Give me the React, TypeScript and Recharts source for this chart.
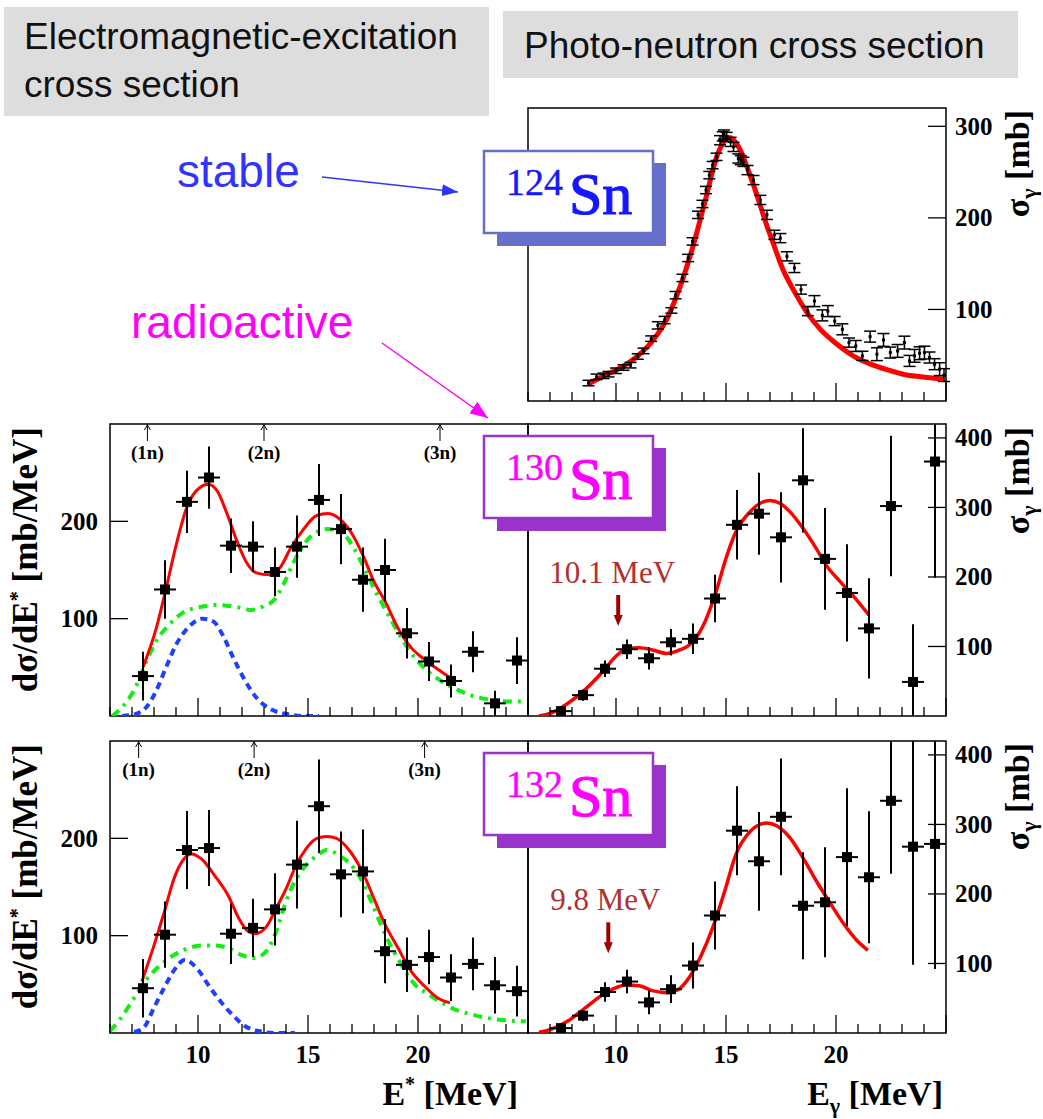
import React from 'react';
import { ComposedChart, XAxis, YAxis, Line, Scatter, ErrorBar, ReferenceArea, ReferenceDot } from 'recharts';

const SERIF = '"Liberation Serif", "Times New Roman", serif';
const SANS = '"Liberation Sans", Arial, sans-serif';

// axes
const energyTicks = [6, 7, 8, 9, 10, 11, 12, 13, 14, 15, 16, 17, 18, 19, 20, 21, 22, 23, 24, 25];
const energyLabels = [10, 15, 20];
const emTicks = [100, 200];
const gammaTicks = [100, 200, 300, 400];
const sn124Ticks = [100, 200, 300];

// 124Sn photo-neutron: [E, sigma, err]
const sn124Points = [
  [8.75, 19.6, 3], [9.12, 26.4, 3], [9.44, 27.5, 3], [9.66, 29.3, 3], [10.0, 33, 3], [10.34, 36.6, 3],
  [10.66, 39.1, 3], [10.99, 48.6, 3], [11.25, 54.7, 3], [11.6, 68.1, 3], [11.9, 82.6, 4], [12.21, 88.4, 4],
  [12.52, 98.9, 3], [12.71, 115.6, 4], [13.02, 134.4, 4], [13.28, 156.2, 4], [13.48, 174.3, 4], [13.73, 203.3, 4],
  [13.93, 215.2, 4], [14.09, 230.4, 4], [14.24, 246.7, 4], [14.39, 257.6, 4], [14.57, 266.7, 4], [14.73, 284.8, 5],
  [14.85, 289.1, 5], [14.91, 291, 5], [15.03, 288.4, 5], [15.21, 283, 5], [15.34, 277.5, 5], [15.56, 264.9, 5],
  [15.67, 263, 5], [15.79, 261.2, 5], [15.98, 252.2, 5], [16.25, 241.3, 5], [16.56, 219.6, 5], [16.86, 203.3, 5],
  [17.2, 181.5, 5], [17.47, 177.9, 5], [17.77, 158, 5], [18.11, 145.3, 5], [18.41, 121.7, 5], [18.72, 98.2, 5],
  [19.02, 109.1, 6], [19.38, 93.5, 6], [19.63, 98.2, 6], [19.94, 87.3, 5], [20.29, 78.3, 6], [20.59, 63.8, 5],
  [20.9, 60.1, 6], [21.2, 49.3, 5], [21.55, 70.3, 6], [21.86, 51.1, 7], [22.16, 66.7, 7], [22.47, 52.9, 6],
  [22.8, 54.7, 7], [23.11, 63.8, 7], [23.34, 43.8, 6], [23.57, 49.3, 7], [23.8, 52.2, 7], [24.02, 52.9, 7],
  [24.25, 47.5, 6], [24.48, 40.2, 6], [24.71, 34.8, 7], [24.91, 28.3, 7],
];
const sn124Fit = [
  [8.75, 18.5], [9.4, 27], [10.15, 35.5], [10.9, 47.5], [11.7, 67], [12.3, 89], [12.9, 124], [13.5, 169],
  [14.1, 223], [14.55, 265], [14.9, 283], [15.1, 288], [15.35, 285], [15.65, 274], [15.95, 256], [16.25, 236],
  [16.55, 214], [16.85, 192], [17.15, 172], [17.6, 143], [18.1, 120], [18.7, 96], [19.3, 78], [20.05, 62],
  [20.8, 49], [21.6, 40], [22.35, 34], [23.1, 29], [23.85, 26.5], [24.9, 24],
];

// 130Sn electromagnetic excitation
const sn130EmPoints = [
  [7.5, 41, 25], [8.5, 130, 30], [9.5, 220, 32], [10.5, 245, 32], [11.5, 175, 28], [12.5, 174, 26],
  [13.5, 148, 25], [14.5, 174, 32], [15.5, 222, 37], [16.5, 192, 36], [17.5, 140, 33], [18.5, 150, 32],
  [19.5, 85, 26], [20.5, 56, 20], [21.5, 36, 17], [22.5, 66, 21], [23.5, 13, 13], [24.5, 57, 24],
];
const sn130EmFit = [
  [7.5, 50], [8.1, 90], [8.55, 131], [9.0, 175], [9.5, 215], [10.1, 235], [10.45, 238], [10.85, 232],
  [11.3, 209], [11.75, 181], [12.2, 158], [12.65, 147], [13.25, 145], [13.75, 153], [14.2, 172], [14.8, 192],
  [15.4, 206], [15.9, 208], [16.35, 204], [16.95, 189], [17.5, 165], [18.0, 138], [18.5, 118], [19.1, 90],
  [19.7, 70], [20.3, 58], [20.9, 48], [21.45, 39.5],
];
const sn130EmGdr = [
  [6.1, 0], [6.55, 9], [7.15, 29], [7.65, 56], [8.1, 77], [8.7, 94], [9.3, 106], [10.1, 112], [10.85, 114],
  [11.75, 112], [12.4, 109], [13.0, 113], [13.45, 119], [13.9, 136], [14.35, 158], [14.8, 176], [15.4, 189],
  [15.9, 192], [16.5, 189], [17.1, 172], [17.55, 152], [18.0, 131], [18.65, 104], [19.25, 80], [19.85, 60],
  [20.45, 46], [21.05, 36], [21.7, 28], [22.45, 21], [23.2, 17], [23.95, 15], [24.9, 15],
];
const sn130EmPdr = [
  [6.55, 0], [7.15, 2], [7.65, 9], [8.1, 26], [8.55, 50], [9.0, 73], [9.6, 92], [10.2, 100], [10.7, 97],
  [11.15, 82], [11.6, 60], [12.05, 40], [12.65, 19], [13.3, 7], [14.05, 2], [14.8, 0], [15.5, 0],
];
const sn130Thresholds = [[7.7, '(1n)'], [13.0, '(2n)'], [21.0, '(3n)']] as const;

// 130Sn photo-neutron
const sn130GammaPoints = [
  [7.5, 7, 3], [8.5, 30, 8], [9.5, 68, 12], [10.5, 96, 14], [11.5, 83, 16], [12.5, 106, 19], [13.5, 111, 22],
  [14.5, 169, 34], [15.5, 275, 50], [16.5, 291, 59], [17.5, 257, 65], [18.5, 339, 75], [19.5, 226, 73],
  [20.5, 177, 70], [21.5, 126, 72], [22.5, 302, 101], [23.5, 49, 83], [24.5, 366, 167],
];
const sn130GammaFit = [
  [6.5, 0], [7.1, 5], [7.85, 19], [8.6, 38], [9.4, 64], [10.0, 86], [10.45, 96], [11.05, 98], [11.65, 95],
  [12.3, 90], [12.9, 95], [13.5, 107], [14.05, 136], [14.55, 179], [15.0, 227], [15.45, 265], [16.1, 294],
  [16.55, 306], [17.0, 310], [17.45, 306], [17.9, 294], [18.5, 270], [19.1, 241], [19.55, 217], [20.2, 193],
  [20.8, 172], [21.5, 145],
];

// 132Sn electromagnetic excitation
const sn132EmPoints = [
  [7.5, 46, 30], [8.5, 101, 34], [9.5, 188, 40], [10.5, 190, 39], [11.5, 102, 31], [12.5, 108, 30],
  [13.5, 127, 37], [14.5, 173, 45], [15.5, 233, 48], [16.5, 163, 44], [17.5, 166, 43], [18.5, 84, 33],
  [19.5, 70, 28], [20.5, 78, 28], [21.5, 57, 24], [22.5, 71, 27], [23.5, 49, 29], [24.5, 43, 26],
];
const sn132EmFit = [
  [7.45, 53], [8.0, 90], [8.45, 123], [8.9, 158], [9.3, 177], [9.7, 184], [10.15, 179], [10.75, 162],
  [11.4, 140], [11.85, 118], [12.3, 104], [12.6, 102], [13.1, 109], [13.55, 128], [14.0, 148], [14.45, 172],
  [14.9, 189], [15.4, 200], [15.85, 202], [16.3, 200], [16.9, 187], [17.55, 162], [18.0, 138], [18.45, 114],
  [19.1, 87], [19.7, 63], [20.3, 48], [20.9, 36], [21.45, 31],
];
const sn132EmGdr = [
  [6.0, 2], [6.45, 14], [7.1, 36], [7.7, 56], [8.3, 70], [8.9, 80], [9.55, 87], [10.15, 90], [10.75, 90],
  [11.4, 87], [12.0, 80], [12.55, 77], [13.1, 84], [13.55, 104], [14.0, 135], [14.45, 158], [14.9, 172],
  [15.4, 182], [15.85, 188], [16.45, 182], [17.1, 169], [17.55, 152], [18.0, 128], [18.6, 97], [19.25, 70],
  [19.85, 50], [20.45, 40], [21.1, 31], [21.7, 24], [22.45, 19], [23.25, 15], [24.0, 13], [24.9, 12],
];
const sn132EmPdr = [
  [7.1, 1], [7.55, 6], [8.0, 26], [8.45, 46], [8.9, 64], [9.4, 75], [10.0, 65], [10.45, 50], [10.9, 36],
  [11.55, 19], [12.15, 7], [12.75, 2], [13.55, 0], [14.4, 0],
];
const sn132Thresholds = [[7.3, '(1n)'], [12.55, '(2n)'], [20.3, '(3n)']] as const;

// 132Sn photo-neutron
const sn132GammaPoints = [
  [7.5, 7, 3], [8.5, 25, 8], [9.5, 59, 14], [10.5, 74, 17], [11.5, 44, 17], [12.5, 63, 20], [13.5, 97, 33],
  [14.5, 169, 49], [15.5, 291, 64], [16.5, 247, 71], [17.5, 311, 84], [18.5, 183, 77], [19.5, 188, 79],
  [20.5, 253, 99], [21.5, 224, 95], [22.5, 334, 105], [23.5, 268, 170], [24.5, 272, 180],
];
const sn132GammaFit = [
  [6.5, 1], [7.1, 6], [7.85, 18], [8.6, 36], [9.25, 52], [9.85, 63], [10.45, 69], [11.05, 68], [11.65, 61],
  [12.3, 58], [12.8, 62], [13.35, 81], [13.85, 110], [14.4, 152], [14.95, 205], [15.45, 257], [16.1, 290],
  [16.55, 300], [16.85, 302], [17.3, 298], [17.9, 281], [18.5, 252], [19.1, 219], [19.75, 186], [20.35, 157],
  [20.95, 133], [21.45, 119],
];

// error bars are cut at the frame, like the original plots
const toPoints = (rows: number[][], ex: number, yMax: number) =>
  rows.map(([x, y, ey]) => ({ x, y, ex, ey: [Math.min(ey, y), Math.min(ey, yMax - y)] }));
const toCurve = (rows: number[][]) => rows.map(([x, y]) => ({ x, y }));

const PLOT_W = 418;
const PAD = { top: 12, right: 100, bottom: 50, left: 110 };

const bigSquare = (p: any) => <rect x={p.cx - 5} y={p.cy - 5} width={10} height={10} fill="#000" />;
const tinySquare = (p: any) => <rect x={p.cx - 1.5} y={p.cy - 1.5} width={3} height={3} fill="#000" />;

const thresholdMark = (label: string) => (p: any) => (
  <g>
    <line x1={p.cx} x2={p.cx} y1={p.cy} y2={p.cy + 17} stroke="#000" strokeWidth={1} />
    <polyline points={`${p.cx - 3},${p.cy + 6} ${p.cx},${p.cy + 1} ${p.cx + 3},${p.cy + 6}`} fill="none" stroke="#000" strokeWidth={1} />
    <text x={p.cx} y={p.cy + 35} textAnchor="middle" fontFamily={SERIF} fontWeight="bold" fontSize={19}>{label}</text>
  </g>
);

const energyArrow = (label: string, dx: number) => (p: any) => (
  <g>
    <text x={p.cx + dx} y={p.cy - 43} textAnchor="middle" fontFamily={SERIF} fontSize={31} fill="#b23030">{label}</text>
    <line x1={p.cx} x2={p.cx} y1={p.cy - 31} y2={p.cy - 10} stroke="#a00000" strokeWidth={4} />
    <polygon points={`${p.cx - 4.5},${p.cy - 11} ${p.cx + 4.5},${p.cy - 11} ${p.cx},${p.cy}`} fill="#a00000" />
  </g>
);

const renderXTick = (p: any, showLabel: boolean) => {
  const v = p.payload.value;
  const major = v % 5 === 0;
  return (
    <g>
      <line x1={p.x} x2={p.x} y1={p.y} y2={p.y - (major ? 18 : 9)} stroke="#000" strokeWidth={1.3} />
      {showLabel && energyLabels.includes(v) && (
        <text x={p.x} y={p.y + 30} textAnchor="middle" fontFamily={SERIF} fontWeight="bold" fontSize={25} fill="#000">{v}</text>
      )}
    </g>
  );
};

const renderYTick = (p: any, side: 'left' | 'right') => {
  const v = p.payload.value;
  const s = side === 'left' ? 1 : -1;
  return (
    <g>
      <line x1={p.x} x2={p.x + s * 18} y1={p.y} y2={p.y} stroke="#000" strokeWidth={1.3} />
      <text x={p.x - s * (side === 'left' ? 12 : 9)} y={p.y} textAnchor={side === 'left' ? 'end' : 'start'} dominantBaseline="central" fontFamily={SERIF} fontWeight="bold" fontSize={25} fill="#000">{v}</text>
    </g>
  );
};

interface PanelProps {
  left: number;
  top: number;
  height: number;
  yMax: number;
  yTicks: number[];
  side: 'left' | 'right';
  xLabels: boolean;
  children: React.ReactNode;
}

// axes get 1px of room (recharts skips a 0px axis), taken back from the margin
const Panel: React.FC<PanelProps> = ({ left, top, height, yMax, yTicks, side, xLabels, children }) => {
  const margin = {
    top: PAD.top,
    bottom: PAD.bottom - 1,
    left: side === 'left' ? PAD.left - 1 : PAD.left,
    right: side === 'right' ? PAD.right - 1 : PAD.right,
  };
  return (
    <div style={{ position: 'absolute', left: left - PAD.left, top: top - PAD.top }}>
      <ComposedChart width={PLOT_W + PAD.left + PAD.right} height={height + PAD.top + PAD.bottom} margin={margin}>
        <XAxis type="number" dataKey="x" domain={[6, 25]} ticks={energyTicks} interval={0} allowDataOverflow
          axisLine={false} tickLine={false} tickSize={0} tickMargin={0} height={1}
          tick={(p: any) => renderXTick(p, xLabels)} />
        <YAxis type="number" dataKey="y" domain={[0, yMax]} ticks={yTicks} interval={0} allowDataOverflow
          orientation={side} axisLine={false} tickLine={false} tickSize={0} tickMargin={0} width={1}
          tick={(p: any) => renderYTick(p, side)} />
        <ReferenceArea x1={6} x2={25} y1={0} y2={yMax} fill="none" stroke="#000" strokeWidth={1.5} />
        {children}
      </ComposedChart>
    </div>
  );
};

const emSeries = (points: number[][], fit: number[][], gdr: number[][], pdr: number[][], thresholds: readonly (readonly [number, string])[]) => [
  <Line key="pdr" data={toCurve(pdr)} dataKey="y" type="monotone" stroke="#1f3fff" strokeWidth={4} strokeDasharray="7 5" dot={false} isAnimationActive={false} />,
  <Line key="gdr" data={toCurve(gdr)} dataKey="y" type="monotone" stroke="#11ee11" strokeWidth={4} strokeDasharray="9 6 3 6" dot={false} isAnimationActive={false} />,
  <Line key="fit" data={toCurve(fit)} dataKey="y" type="monotone" stroke="#ff0000" strokeWidth={3} dot={false} isAnimationActive={false} />,
  <Scatter key="pts" data={toPoints(points, 0.5, 300)} dataKey="y" shape={bigSquare} isAnimationActive={false}>
    <ErrorBar dataKey="ey" direction="y" width={0} stroke="#000" strokeWidth={2} isAnimationActive={false} />
    <ErrorBar dataKey="ex" direction="x" width={0} stroke="#000" strokeWidth={2} isAnimationActive={false} />
  </Scatter>,
  ...thresholds.map(([e, label]) => (
    <ReferenceDot key={label} x={e} y={300} ifOverflow="visible" shape={thresholdMark(label)} />
  )),
];

const gammaSeries = (points: number[][], fit: number[][]) => [
  <Line key="fit" data={toCurve(fit)} dataKey="y" type="monotone" stroke="#ff0000" strokeWidth={3.5} dot={false} isAnimationActive={false} />,
  <Scatter key="pts" data={toPoints(points, 0.5, 420)} dataKey="y" shape={bigSquare} isAnimationActive={false}>
    <ErrorBar dataKey="ey" direction="y" width={0} stroke="#000" strokeWidth={2} isAnimationActive={false} />
    <ErrorBar dataKey="ex" direction="x" width={0} stroke="#000" strokeWidth={2} isAnimationActive={false} />
  </Scatter>,
];

const IsotopeTag: React.FC<{ y: number; mass: string; border: string; color: string }> = ({ y, mass, border, color }) => (
  <g>
    <rect x={497} y={y + 12} width={169} height={83} fill={border} />
    <rect x={484} y={y} width={169} height={82} fill="#fff" stroke={border} strokeWidth={2.5} />
    <text x={506} y={y + 44} fontFamily={SERIF} fontSize={38} fill={color} stroke={color} strokeWidth={0.4}>{mass}</text>
    <text x={569} y={y + 63} fontFamily={SERIF} fontSize={60} fill={color} stroke={color} strokeWidth={1.2}>Sn</text>
  </g>
);

const App: React.FC = () => (
  <div style={{ position: 'absolute', left: 0, top: 0, width: 1043, height: 1119, background: '#fff', overflow: 'hidden' }}>
    <Panel left={528} top={108} height={293} yMax={320} yTicks={sn124Ticks} side="right" xLabels={false}>
      <Line data={toCurve(sn124Fit)} dataKey="y" type="monotone" stroke="#ff0000" strokeWidth={5} dot={false} isAnimationActive={false} />
      <Scatter data={sn124Points.map(([x, y, ey]) => ({ x, y, ey }))} dataKey="y" shape={tinySquare} isAnimationActive={false}>
        <ErrorBar dataKey="ey" direction="y" width={6} stroke="#000" strokeWidth={1.5} isAnimationActive={false} />
      </Scatter>
    </Panel>

    <Panel left={110} top={424} height={292} yMax={300} yTicks={emTicks} side="left" xLabels={false}>
      {emSeries(sn130EmPoints, sn130EmFit, sn130EmGdr, sn130EmPdr, sn130Thresholds)}
    </Panel>
    <Panel left={528} top={424} height={292} yMax={420} yTicks={gammaTicks} side="right" xLabels={false}>
      {gammaSeries(sn130GammaPoints, sn130GammaFit)}
      <ReferenceDot x={10.1} y={129.5} ifOverflow="visible" shape={energyArrow('10.1 MeV', -6)} />
    </Panel>

    <Panel left={110} top={741} height={292} yMax={300} yTicks={emTicks} side="left" xLabels>
      {emSeries(sn132EmPoints, sn132EmFit, sn132EmGdr, sn132EmPdr, sn132Thresholds)}
    </Panel>
    <Panel left={528} top={741} height={292} yMax={420} yTicks={gammaTicks} side="right" xLabels>
      {gammaSeries(sn132GammaPoints, sn132GammaFit)}
      <ReferenceDot x={9.65} y={114.6} ifOverflow="visible" shape={energyArrow('9.8 MeV', -3)} />
    </Panel>

    <svg width={1043} height={1119} style={{ position: 'absolute', left: 0, top: 0, pointerEvents: 'none' }}>
      <defs>
        <marker id="headBlue" markerWidth="16" markerHeight="12" refX="16" refY="6" orient="auto" markerUnits="userSpaceOnUse">
          <path d="M0,0 L16,6 L0,12 Z" fill="#3333ff" />
        </marker>
        <marker id="headPink" markerWidth="18" markerHeight="14" refX="18" refY="7" orient="auto" markerUnits="userSpaceOnUse">
          <path d="M0,0 L18,7 L0,14 Z" fill="#ff00ff" />
        </marker>
      </defs>

      <rect x={4} y={7} width={485} height={109} fill="#dddddd" />
      <text x={24} y={49} fontFamily={SANS} fontSize={37} fill="#111">Electromagnetic-excitation</text>
      <text x={24} y={97} fontFamily={SANS} fontSize={37} fill="#111">cross section</text>
      <rect x={503} y={11} width={515} height={67} fill="#dddddd" />
      <text x={524} y={58} fontFamily={SANS} fontSize={37} fill="#111">Photo-neutron cross section</text>

      <text x={177} y={187} fontFamily={SANS} fontSize={46} fill="#3333ff">stable</text>
      <line x1={322} y1={177} x2={458} y2={192} stroke="#3333ff" strokeWidth={1.5} markerEnd="url(#headBlue)" />
      <text x={131} y={338} fontFamily={SANS} fontSize={46} fill="#ff00ff">radioactive</text>
      <line x1={382} y1={343} x2={488} y2={418} stroke="#ff00ff" strokeWidth={1.5} markerEnd="url(#headPink)" />

      <IsotopeTag y={151} mass="124" border="#6670cc" color="#1515ff" />
      <IsotopeTag y={436} mass="130" border="#9933cc" color="#ff00ff" />
      <IsotopeTag y={753} mass="132" border="#9933cc" color="#ff00ff" />

      {[427, 744].map((y) => (
        <text key={y} transform={`translate(37,${y}) rotate(-90)`} textAnchor="end" fontFamily={SERIF} fontWeight="bold" fontSize={35} fill="#000">
          dσ/dE<tspan dy={-13} fontSize={20}>*</tspan><tspan dy={13}> [mb/MeV]</tspan>
        </text>
      ))}
      {[110, 427, 743].map((y) => (
        <text key={y} transform={`translate(1029,${y}) rotate(-90)`} textAnchor="end" fontFamily={SERIF} fontWeight="bold" fontSize={34} fill="#000">
          σ<tspan dy={7} fontSize={22}>γ</tspan><tspan dy={-7}> [mb]</tspan>
        </text>
      ))}
      <text x={518} y={1105} textAnchor="end" fontFamily={SERIF} fontWeight="bold" fontSize={34} fill="#000">
        E<tspan dy={-14} fontSize={20}>*</tspan><tspan dy={14}> [MeV]</tspan>
      </text>
      <text x={943} y={1105} textAnchor="end" fontFamily={SERIF} fontWeight="bold" fontSize={34} fill="#000">
        E<tspan dy={8} fontSize={22}>γ</tspan><tspan dy={-8}> [MeV]</tspan>
      </text>
    </svg>
  </div>
);

export default App;
